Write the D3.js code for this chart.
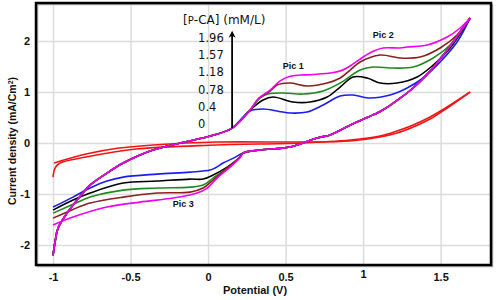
<!DOCTYPE html>
<html>
<head>
<meta charset="utf-8">
<script src="https://cdn.jsdelivr.net/npm/d3@7"></script>
<style>
  body { margin: 0; background: #fff; }
  svg { display: block; }
</style>
</head>
<body>
<svg id="cv-chart"></svg>
<script>
// Cyclic voltammograms for increasing p-CA concentration (mM/L)

const svgWidth = 500;
const svgHeight = 300;
const plot = { left: 36, right: 491, top: 3, bottom: 265 };

const xTicks = [-1, -0.5, 0, 0.5, 1, 1.5];
const yTicks = [-2, -1, 0, 1, 2];

const concentrations = ["0", "0.4", "0.78", "1.18", "1.57", "1.96"];
const seriesColors = ["#f01414", "#1c1cf0", "#000000", "#1f8a1f", "#8b1e1e", "#f000f0"];
const peakLabels = ["Pic 1", "Pic 2", "Pic 3"];

// [potential (V), current density (mA/cm2)]
// 0 mM : blank electrode
const blankForward = [[-1.0, -0.667], [-0.987, -0.49], [-0.955, -0.392], [-0.787, -0.275], [-0.465, -0.118],
    [0.052, -0.039], [0.594, 0.0], [0.916, 0.059], [1.11, 0.137], [1.219, 0.235], [1.323, 0.353],
    [1.432, 0.51], [1.542, 0.706], [1.69, 1.0]];
const blankReverse = [[1.69, 1.0], [1.542, 0.686], [1.432, 0.471], [1.323, 0.314], [1.219, 0.196],
    [1.11, 0.118], [0.916, 0.039], [0.594, 0.02], [0.052, 0.02], [-0.355, -0.039], [-0.574, -0.098],
    [-0.787, -0.216], [-0.994, -0.392]];

// anodic branch shared by all p-CA curves up to the peaks
const anodicStart = [[-1.0, -2.2], [-0.985, -1.9], [-0.968, -1.667], [-0.91, -1.373], [-0.845, -1.118],
    [-0.761, -0.824], [-0.652, -0.588], [-0.548, -0.392], [-0.439, -0.235], [-0.355, -0.137],
    [-0.18, 0.0], [0.013, 0.137], [0.155, 0.294]];

// anodic peaks, one per concentration
const anodic040 = [[0.155, 0.294], [0.226, 0.51], [0.271, 0.63], [0.355, 0.667], [0.458, 0.62],
    [0.529, 0.588], [0.639, 0.608], [0.742, 0.745], [0.852, 0.922], [0.935, 0.941], [1.045, 0.882],
    [1.174, 0.941], [1.284, 1.078], [1.387, 1.275], [1.497, 1.588], [1.606, 1.98], [1.69, 2.45]];
const anodic078 = [[0.155, 0.294], [0.271, 0.647], [0.355, 0.843], [0.419, 0.902], [0.548, 0.804],
    [0.658, 0.804], [0.768, 0.902], [0.852, 1.098], [0.935, 1.294], [1.026, 1.275], [1.11, 1.176],
    [1.219, 1.176], [1.348, 1.294], [1.452, 1.529], [1.561, 1.863], [1.69, 2.45]];
const anodic118 = [[0.155, 0.294], [0.271, 0.647], [0.335, 0.882], [0.387, 0.96], [0.484, 0.98],
    [0.613, 0.96], [0.742, 1.02], [0.852, 1.176], [0.981, 1.431], [1.065, 1.49], [1.194, 1.47],
    [1.323, 1.49], [1.452, 1.667], [1.561, 1.922], [1.69, 2.45]];
const anodic157 = [[0.155, 0.294], [0.271, 0.647], [0.323, 0.863], [0.40, 1.02], [0.445, 1.137],
    [0.529, 1.176], [0.639, 1.118], [0.768, 1.176], [0.852, 1.275], [0.916, 1.431], [0.981, 1.588],
    [1.11, 1.725], [1.239, 1.667], [1.368, 1.686], [1.497, 1.863], [1.606, 2.118], [1.69, 2.45]];
const anodic196 = [[0.155, 0.294], [0.271, 0.647], [0.323, 0.863], [0.40, 1.039], [0.465, 1.22],
    [0.53, 1.31], [0.594, 1.333], [0.66, 1.34], [0.787, 1.373], [0.852, 1.41], [0.916, 1.51],
    [1.0, 1.686], [1.065, 1.8], [1.129, 1.863], [1.239, 1.863], [1.284, 1.882], [1.413, 1.922],
    [1.542, 2.078], [1.626, 2.255], [1.69, 2.45]];

// cathodic branch shared by all p-CA curves down to the reduction step
const cathodicStart = [[1.69, 2.45], [1.626, 2.18], [1.561, 1.9], [1.497, 1.65], [1.432, 1.41],
    [1.368, 1.21], [1.303, 1.03], [1.239, 0.88], [1.174, 0.74], [1.11, 0.62], [1.026, 0.5],
    [0.916, 0.35], [0.787, 0.16], [0.703, 0.10], [0.529, -0.078], [0.335, -0.137], [0.226, -0.196]];

// cathodic step (Pic 3) and return to -1 V
const cathodic040 = [[0.226, -0.196], [0.161, -0.3], [0.097, -0.392], [0.045, -0.49], [0.013, -0.53],
    [-0.116, -0.569], [-0.329, -0.608], [-0.548, -0.667], [-0.652, -0.745], [-0.761, -0.882],
    [-0.871, -1.059], [-1.0, -1.255]];
const cathodic078 = [[0.226, -0.196], [0.206, -0.275], [0.123, -0.471], [0.032, -0.627], [-0.032, -0.706],
    [-0.116, -0.706], [-0.329, -0.745], [-0.548, -0.784], [-0.761, -0.98], [-0.871, -1.118], [-1.0, -1.314]];
const cathodic118 = [[0.226, -0.196], [0.206, -0.275], [0.123, -0.49], [0.032, -0.686], [-0.032, -0.824],
    [-0.116, -0.863], [-0.329, -0.882], [-0.548, -0.922], [-0.761, -1.059], [-0.871, -1.2], [-1.0, -1.373]];
const cathodic157 = [[0.226, -0.196], [0.206, -0.275], [0.123, -0.49], [0.032, -0.725], [-0.032, -0.882],
    [-0.116, -0.961], [-0.329, -0.98], [-0.548, -1.059], [-0.761, -1.176], [-0.871, -1.3], [-1.0, -1.471]];
const cathodic196 = [[0.226, -0.196], [0.206, -0.29], [0.142, -0.471], [0.058, -0.686], [-0.006, -0.882],
    [-0.071, -0.98], [-0.226, -1.078], [-0.439, -1.157], [-0.652, -1.255], [-0.871, -1.451], [-1.0, -1.608]];

// where the peak labels sit (potential, current)
const peakLabelPos = [[0.55, 1.45], [1.13, 2.05], [-0.16, -1.26]];
const arrowFoot = [0.155, 0.294];
const arrowTip = [0.155, 2.2];

const xScale = d3.scaleLinear()
    .domain([-1.11, 1.825])
    .range([plot.left, plot.right]);

const yScale = d3.scaleLinear()
    .domain([-2.39, 2.745])
    .range([plot.bottom, plot.top]);

const line = d3.line()
    .x(d => xScale(d[0]))
    .y(d => yScale(d[1]))
    .curve(d3.curveCatmullRom.alpha(0.5));

function buildSeries() {
    const anodic = [anodic040, anodic078, anodic118, anodic157, anodic196];
    const cathodic = [cathodic040, cathodic078, cathodic118, cathodic157, cathodic196];
    const series = [{ name: concentrations[0], paths: [blankForward, blankReverse] }];
    anodic.forEach((a, i) => {
        series.push({
            name: concentrations[i + 1],
            paths: [anodicStart.concat(a.slice(1)), cathodicStart.concat(cathodic[i].slice(1))]
        });
    });
    return series;
}

function drawChart() {
    const svg = d3.select("#cv-chart")
        .attr("width", svgWidth)
        .attr("height", svgHeight);

    const plotW = plot.right - plot.left;
    const plotH = plot.bottom - plot.top;

    // grid
    svg.append("g")
        .attr("transform", `translate(0,${plot.bottom})`)
        .call(d3.axisBottom(xScale).tickValues(xTicks).tickSize(-plotH).tickFormat(""))
        .call(g => g.select(".domain").remove())
        .call(g => g.selectAll("line").attr("stroke", "#dcdcdc").attr("stroke-width", 1.5));

    svg.append("g")
        .attr("transform", `translate(${plot.left},0)`)
        .call(d3.axisLeft(yScale).tickValues(yTicks).tickSize(-plotW).tickFormat(""))
        .call(g => g.select(".domain").remove())
        .call(g => g.selectAll("line").attr("stroke", "#dcdcdc").attr("stroke-width", 1.5));

    // tick labels
    svg.append("g")
        .attr("transform", `translate(0,${plot.bottom})`)
        .call(d3.axisBottom(xScale).tickValues(xTicks).tickSize(0).tickPadding(8).tickFormat(d => String(d)))
        .call(g => g.select(".domain").remove())
        .call(g => g.selectAll("text")
            .attr("font-family", "'Liberation Sans', Arial, sans-serif")
            .attr("font-size", 11)
            .attr("font-weight", "bold")
            .attr("fill", "#111")
            .attr("y", d => d === 1 ? 5 : 8));

    svg.append("g")
        .attr("transform", `translate(${plot.left},0)`)
        .call(d3.axisLeft(yScale).tickValues(yTicks).tickSize(0).tickPadding(6).tickFormat(d => String(d)))
        .call(g => g.select(".domain").remove())
        .call(g => g.selectAll("text")
            .attr("font-family", "'Liberation Sans', Arial, sans-serif")
            .attr("font-size", 11)
            .attr("font-weight", "bold")
            .attr("fill", "#111"));

    // curves
    const curves = svg.append("g").attr("fill", "none").attr("stroke-width", 1.6);
    buildSeries().forEach((s, i) => {
        s.paths.forEach(p => {
            curves.append("path")
                .datum(p)
                .attr("stroke", seriesColors[i])
                .attr("stroke-linejoin", "round")
                .attr("d", line);
        });
    });

    // concentration arrow
    const ax = xScale(arrowFoot[0]);
    const ay0 = yScale(arrowFoot[1]);
    const ay1 = yScale(arrowTip[1]);
    svg.append("line")
        .attr("x1", ax).attr("x2", ax)
        .attr("y1", ay0).attr("y2", ay1 + 4)
        .attr("stroke", "#000")
        .attr("stroke-width", 1.8);
    svg.append("path")
        .attr("d", `M${ax},${ay1} L${ax - 3.5},${ay1 + 7} L${ax},${ay1 + 5} L${ax + 3.5},${ay1 + 7} Z`)
        .attr("fill", "#000");

    const legendFont = "'DejaVu Sans', Verdana, sans-serif";
    svg.append("text")
        .attr("x", ax - 49)
        .attr("y", 24)
        .attr("font-family", legendFont)
        .attr("font-size", 12)
        .attr("fill", "#111")
        .call(t => {
            t.append("tspan").text("[");
            t.append("tspan").attr("font-size", 10).text("P");
            t.append("tspan").text("-CA] (mM/L)");
        });

    svg.append("g")
        .selectAll("text")
        .data(concentrations.slice().reverse())
        .join("text")
        .attr("x", ax - 34)
        .attr("y", (d, i) => 42 + i * 17.2)
        .attr("font-family", legendFont)
        .attr("font-size", 11.5)
        .attr("fill", "#111")
        .text(d => d);

    // peak labels
    svg.append("g")
        .selectAll("text")
        .data(peakLabels)
        .join("text")
        .attr("x", (d, i) => xScale(peakLabelPos[i][0]))
        .attr("y", (d, i) => yScale(peakLabelPos[i][1]))
        .attr("text-anchor", "middle")
        .attr("font-family", "'Liberation Sans', Arial, sans-serif")
        .attr("font-size", 9)
        .attr("font-weight", "bold")
        .attr("fill", "#111")
        .text(d => d);

    // frame
    svg.append("rect")
        .attr("x", plot.left + 1.5).attr("y", plot.top + 1.5)
        .attr("width", plotW).attr("height", plotH)
        .attr("fill", "none")
        .attr("stroke", "#b0b0b0")
        .attr("stroke-width", 1.5);
    svg.append("rect")
        .attr("x", plot.left).attr("y", plot.top)
        .attr("width", plotW).attr("height", plotH)
        .attr("fill", "none")
        .attr("stroke", "#000")
        .attr("stroke-width", 2.5);

    // axis titles
    svg.append("text")
        .attr("x", 255)
        .attr("y", 294)
        .attr("text-anchor", "middle")
        .attr("font-family", "'Liberation Sans', Arial, sans-serif")
        .attr("font-size", 11)
        .attr("font-weight", "bold")
        .attr("fill", "#111")
        .text("Potential (V)");

    svg.append("text")
        .attr("transform", `translate(16,141) rotate(-90)`)
        .attr("text-anchor", "middle")
        .attr("font-family", "'Liberation Sans', Arial, sans-serif")
        .attr("font-size", 10.5)
        .attr("font-weight", "bold")
        .attr("fill", "#111")
        .call(t => {
            t.append("tspan").text("Current density (mA/Cm");
            t.append("tspan").attr("baseline-shift", "super").attr("font-size", 7).text("2");
            t.append("tspan").text(")");
        });
}

document.addEventListener("DOMContentLoaded", drawChart);
</script>
</body>
</html>
